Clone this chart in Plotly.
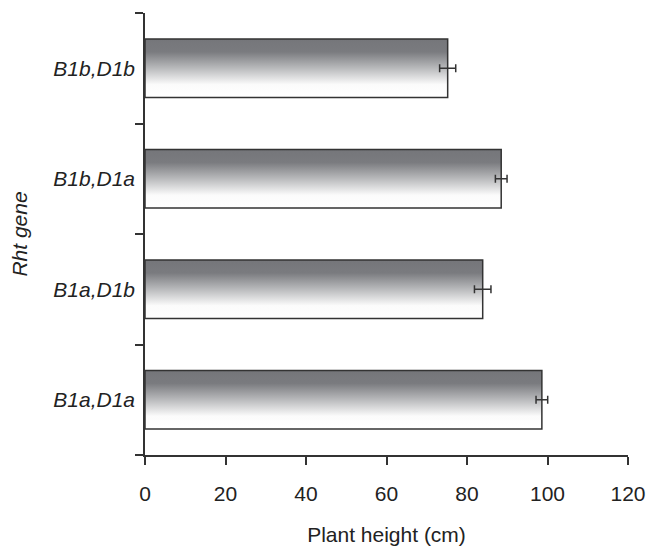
import plotly.graph_objects as go

categories = ["B1a,D1a", "B1a,D1b", "B1b,D1a", "B1b,D1b"]
heights = [98.6, 83.9, 88.5, 75.2]
errors = [1.45, 2.05, 1.45, 2.0]
x_ticks = [0, 20, 40, 60, 80, 100, 120]

HALF = 0.264
INK = "#333333"
TXT = "#222222"
FONT = "Liberation Sans, Arial, sans-serif"
FS = 21

fig = go.Figure()

grad = [[0.0, "#ffffff"], [0.22, "#fbfbfb"], [0.5, "#b9babc"],
        [0.78, "#7a7b7f"], [1.0, "#75767a"]]

for i, (cat, h) in enumerate(zip(categories, heights)):
    xs = [0, h, h, 0, 0]
    ys = [i - HALF, i - HALF, i + HALF, i + HALF, i - HALF]
    fig.add_trace(go.Scatter(
        x=xs, y=ys, mode="lines", fill="toself",
        fillgradient=dict(type="vertical", colorscale=grad),
        line=dict(color=INK, width=1.5),
        showlegend=False, hoverinfo="skip"))

fig.add_trace(go.Scatter(
    x=heights, y=list(range(len(categories))), mode="markers",
    marker=dict(size=1, color="rgba(0,0,0,0)"),
    error_x=dict(type="data", array=errors, visible=True,
                 color=INK, thickness=1.5, width=4),
    showlegend=False))

fig.update_layout(
    width=638, height=538,
    margin=dict(l=137, r=18, t=5, b=91),
    plot_bgcolor="white", paper_bgcolor="white",
    font=dict(family=FONT, color=TXT, size=FS),
    xaxis=dict(
        range=[0, 120], tickvals=x_ticks, ticktext=[str(v) for v in x_ticks],
        automargin=False,
        showline=True, linecolor=INK, linewidth=1.5,
        ticks="outside", ticklen=8, tickwidth=1.5, tickcolor=INK,
        showgrid=False, zeroline=False,
        ticklabelstandoff=11, ticklabeloverflow="allow",
        tickfont=dict(size=FS, family=FONT, color=TXT),
        title=dict(text="Plant height (cm)", standoff=28,
                   font=dict(size=FS, family=FONT, color=TXT)),
    ),
    yaxis=dict(
        range=[-0.5, 3.5],
        tickvals=list(range(len(categories))),
        ticktext=["<i>%s</i>" % c for c in categories],
        automargin=False,
        showline=True, linecolor=INK, linewidth=1.5,
        ticks="outside", ticklen=0,
        minor=dict(tickvals=[-0.5, 0.5, 1.5, 2.5, 3.5], ticks="outside",
                   ticklen=8, tickwidth=1.5, tickcolor=INK, showgrid=False),
        showgrid=False, zeroline=False,
        ticklabelstandoff=4,
        tickfont=dict(size=FS, family=FONT, color=TXT),
        title=dict(text="<i>Rht gene</i>", standoff=21,
                   font=dict(size=FS, family=FONT, color=TXT)),
    ),
)

fig.write_html("out.html")
